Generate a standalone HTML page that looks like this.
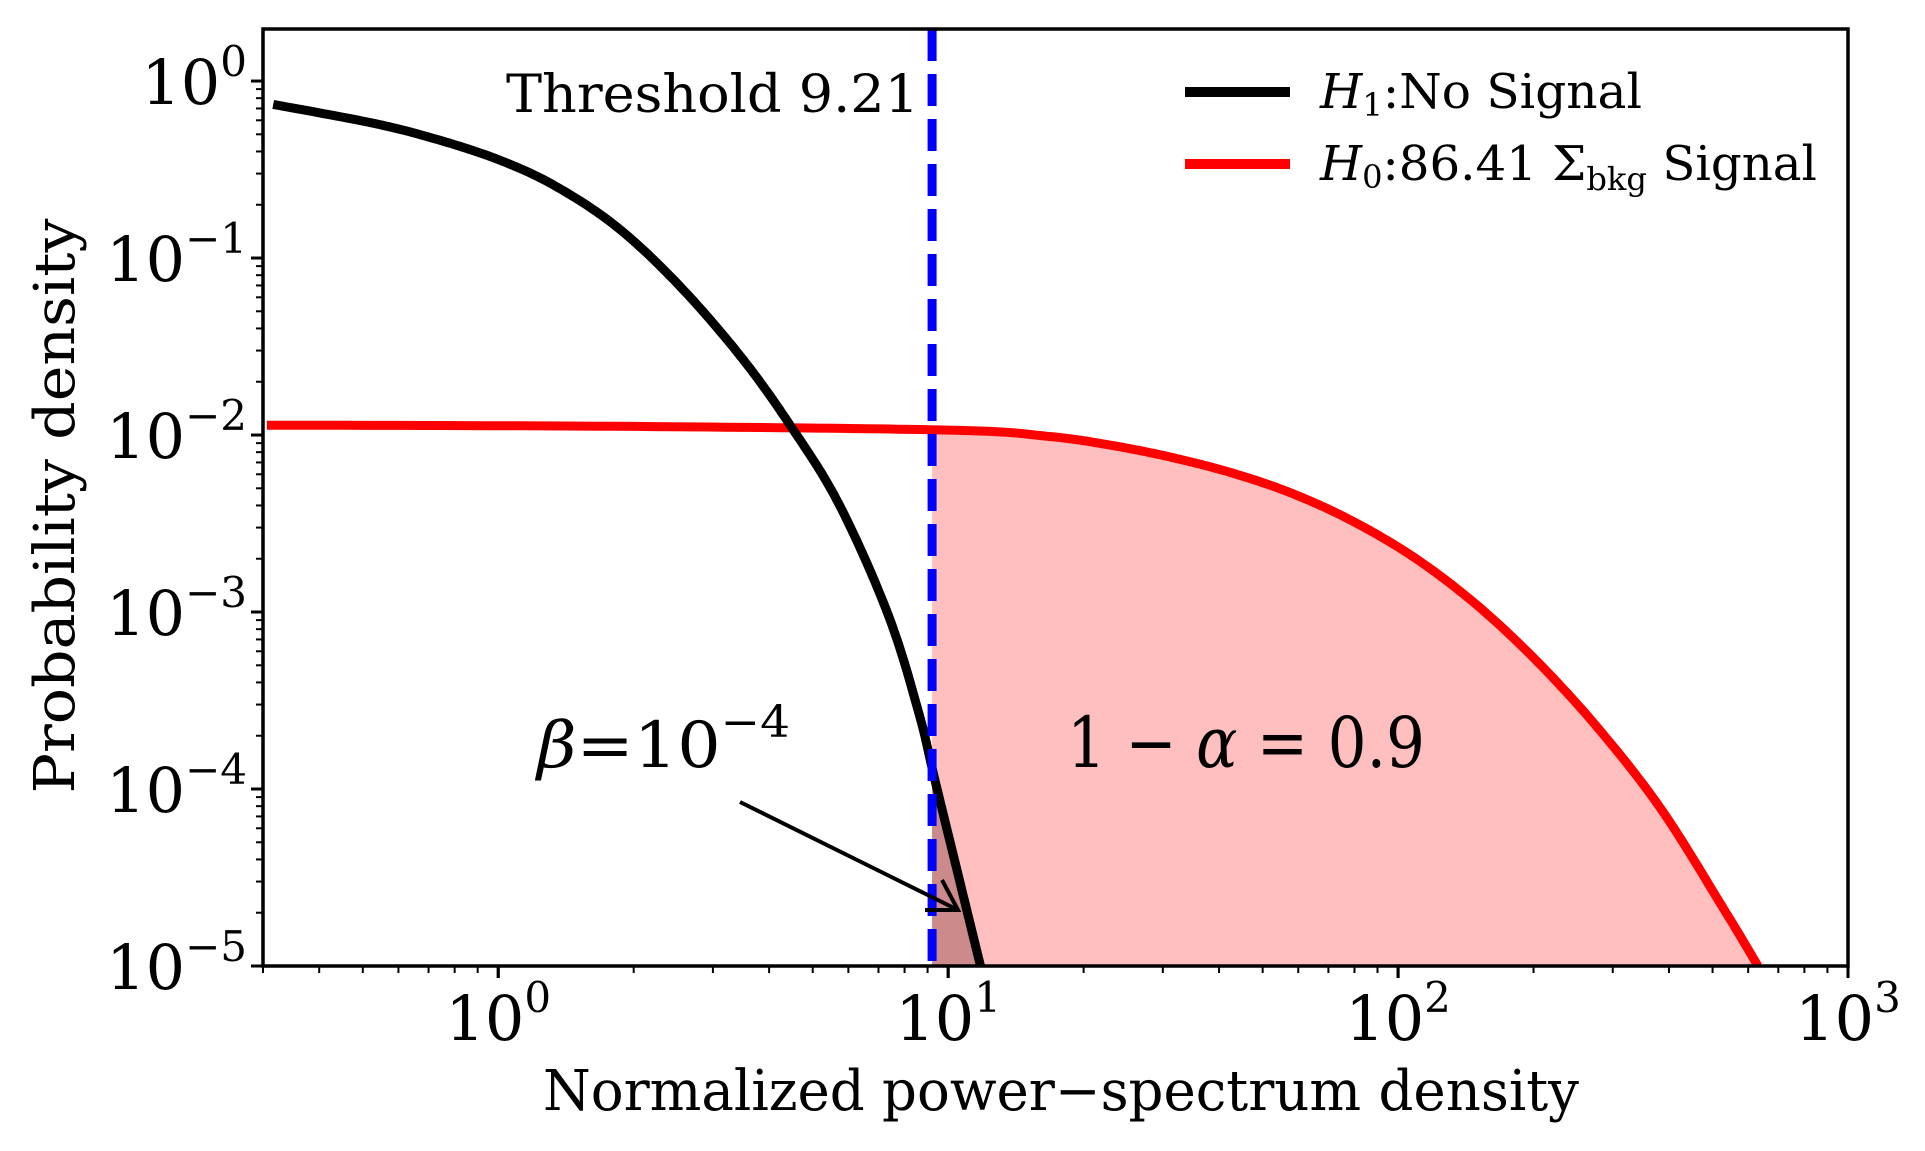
<!DOCTYPE html>
<html><head><meta charset="utf-8"><style>
html,body{margin:0;padding:0;background:#fff;}
svg text{font-family:"DejaVu Serif","Liberation Serif",serif;}
</style></head><body>
<svg id="chart" width="1925" height="1146" viewBox="0 0 1925 1146" xmlns="http://www.w3.org/2000/svg">
<g id="fills"></g>
<g id="lines"></g>
<g id="axes"></g>
</svg>
<script>
// data
const blackX = [0.316, 0.523, 0.716, 1.0, 1.34, 1.84, 2.52, 3.45, 4.44, 5.71, 7.35, 8.6, 9.45, 11.8];
const blackY = [0.738, 0.58, 0.475, 0.36, 0.255, 0.149, 0.0703, 0.028, 0.0115, 0.0041, 0.00097, 0.00027, 0.0001, 0.00001];
const redX = [0.306, 1.84, 10, 16.6, 22.8, 31.2, 42.8, 58.6, 80.2, 110, 150.6, 206, 282, 387, 530, 631];
const redY = [0.01137, 0.0112, 0.01066, 0.00984, 0.00879, 0.0075, 0.0061, 0.00464, 0.00321, 0.00199, 0.00108, 0.000511, 0.000212, 0.000075, 0.0000209, 0.00001];
const threshold = 9.21;
const xTickExps = [0, 1, 2, 3];
const yTickExps = [0, -1, -2, -3, -4, -5];

const L=263,R=1848,T=29,B=966;
const xmin=Math.log10(0.3), xmax=3, ymin=-5, ymax=0.294;
function sx(v){return L+(Math.log10(v)-xmin)/(xmax-xmin)*(R-L);}
function sy(v){return B-(Math.log10(v)-ymin)/(ymax-ymin)*(B-T);}
const NS="http://www.w3.org/2000/svg";
function mk(tag,parent,attrs){const e=document.createElementNS(NS,tag);for(const k in attrs)e.setAttribute(k,attrs[k]);parent.appendChild(e);return e;}

function sample(xs,ys){
  const px=xs.map(v=>Math.log10(v)), py=ys.map(v=>Math.log10(v));
  const out=[];
  for(let i=0;i<px.length-1;i++){
    const p0=i>0?i-1:i, p3=i+2<px.length?i+2:i+1;
    for(let t=0;t<1;t+=0.05){
      const t2=t*t,t3=t2*t;
      const f=(a,b,c,d)=>0.5*((2*b)+(-a+c)*t+(2*a-5*b+4*c-d)*t2+(-a+3*b-3*c+d)*t3);
      out.push([f(px[p0],px[i],px[i+1],px[p3]),f(py[p0],py[i],py[i+1],py[p3])]);
    }
  }
  out.push([px[px.length-1],py[py.length-1]]);
  return out.map(p=>[sx(Math.pow(10,p[0])),sy(Math.pow(10,p[1]))]);
}
const fills=document.getElementById('fills'), lines=document.getElementById('lines'), axes=document.getElementById('axes');
const redPts=sample(redX,redY), blkPts=sample(blackX,blackY);
const tx=sx(threshold);
function interpY(pts,x){for(let i=0;i<pts.length-1;i++){if(pts[i][0]<=x&&pts[i+1][0]>=x){const f=(x-pts[i][0])/(pts[i+1][0]-pts[i][0]||1);return pts[i][1]+f*(pts[i+1][1]-pts[i][1]);}}return pts[0][1];}
function area(pts){const p=pts.filter(q=>q[0]>=tx);let d=`M${tx},${B} L${tx},${interpY(pts,tx)} `;p.forEach(q=>d+=`L${q[0]},${q[1]} `);d+=`L${p[p.length-1][0]},${B} Z`;return d;}
const cp=mk('clipPath',fills,{id:'clip'});mk('rect',cp,{x:L,y:T,width:R-L,height:B-T});
const ra=mk('path',fills,{d:area(redPts),fill:'#ffbfbf','clip-path':'url(#clip)'});


const ba=mk('path',fills,{d:area(blkPts),fill:'#cc8a8a','clip-path':'url(#clip)'});


const toD=pts=>'M'+pts.map(p=>p[0].toFixed(1)+','+p[1].toFixed(1)).join(' L');
const rl=mk('path',lines,{d:toD(redPts),stroke:'#ff0000','stroke-width':9,fill:'none','clip-path':'url(#clip)'});


const bl=mk('path',lines,{d:toD(blkPts),stroke:'#000','stroke-width':9,fill:'none','clip-path':'url(#clip)'});


const th=mk('line',lines,{x1:tx,x2:tx,y1:T,y2:B,stroke:'#0000ff','stroke-width':9,'stroke-dasharray':'32 13'});



const fr=mk('rect',axes,{x:L,y:T,width:R-L,height:B-T,fill:'none',stroke:'#000','stroke-width':3.5});


for(let e=-1;e<=2;e++)for(let m=1;m<10;m++){const v=m*Math.pow(10,e);if(v<0.3||v>1000)continue;const x=sx(v);mk('line',axes,{x1:x,x2:x,y1:B,y2:B+(m===1?12:7),stroke:'#000','stroke-width':m===1?3:2});}
xTickExps.forEach(e=>{const x=sx(Math.pow(10,e));mk('line',axes,{x1:x,x2:x,y1:B,y2:B+12,stroke:'#000','stroke-width':3});
  const t=mk('text',axes,{x:x,y:B+74,'font-size':62,'text-anchor':'middle','font-family':'Liberation Serif'});t.innerHTML=`10<tspan font-size="42" dy="-28">${e}</tspan>`;
  
  });
for(let e=-5;e<=0;e++)for(let m=1;m<10;m++){const v=m*Math.pow(10,e);const y=sy(v);if(y<T)continue;mk('line',axes,{x1:L-(m===1?12:7),x2:L,y1:y,y2:y,stroke:'#000','stroke-width':m===1?3:2});}
yTickExps.forEach(e=>{const y=sy(Math.pow(10,e));
  const t=mk('text',axes,{x:L-16,y:y+23,'font-size':62,'text-anchor':'end','font-family':'Liberation Serif'});t.innerHTML=`10<tspan font-size="42" dy="-28">${e<0?'−'+(-e):e}</tspan>`;
  
  });
</script>
<svg width="1925" height="1146" style="position:absolute;left:0;top:0">
<text x="543" y="1110" font-size="56" textLength="1036" lengthAdjust="spacingAndGlyphs" font-family="DejaVu Serif">Normalized power−spectrum density</text>
<text transform="translate(74,506) rotate(-90)" font-size="56" text-anchor="middle" textLength="575" lengthAdjust="spacingAndGlyphs" font-family="DejaVu Serif">Probability density</text>
<text x="506" y="112" font-size="52" textLength="413" lengthAdjust="spacingAndGlyphs" font-family="DejaVu Serif">Threshold 9.21</text>
<line x1="1185" y1="92" x2="1290" y2="92" stroke="#000" stroke-width="10"/>
<text x="1320" y="108" font-size="48" textLength="322" lengthAdjust="spacingAndGlyphs" font-family="DejaVu Serif"><tspan font-style="italic">H</tspan><tspan font-size="32" dy="8">1</tspan><tspan dy="-8">:No Signal</tspan></text>
<line x1="1185" y1="164" x2="1290" y2="164" stroke="#ff0000" stroke-width="10"/>
<text x="1320" y="180" font-size="48" textLength="497" lengthAdjust="spacingAndGlyphs" font-family="DejaVu Serif"><tspan font-style="italic">H</tspan><tspan font-size="32" dy="8">0</tspan><tspan dy="-8">:86.41 Σ</tspan><tspan font-size="32" dy="10">bkg</tspan><tspan dy="-10"> Signal</tspan></text>
<text x="537" y="767" font-size="64" textLength="253" lengthAdjust="spacingAndGlyphs" font-family="DejaVu Serif"><tspan font-style="italic">β</tspan>=10<tspan font-size="44" dy="-30">−4</tspan></text>
<text x="1067" y="767" font-size="70" font-family="DejaVu Serif" textLength="358" lengthAdjust="spacingAndGlyphs">1 − <tspan font-style="italic">α</tspan> = 0.9</text>
<line x1="740" y1="802" x2="956" y2="909" stroke="#000" stroke-width="4"/>
<polyline points="942,880 958,910 925,910" fill="none" stroke="#000" stroke-width="4"/>
</svg>
</body></html>
